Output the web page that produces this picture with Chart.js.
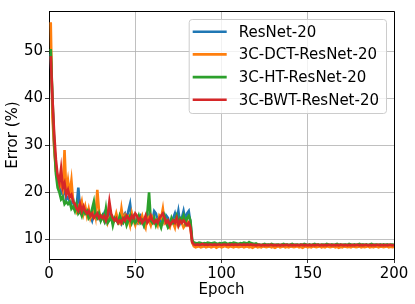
<!DOCTYPE html>
<html>
<head>
<meta charset="utf-8">
<script src="https://cdn.jsdelivr.net/npm/chart.js@4"></script>
<style>
  html,body{margin:0;padding:0;background:#fff;}
  #wrap{width:415px;height:304px;}
</style>
</head>
<body>
<div id="wrap"><canvas id="errChart" width="415" height="304"></canvas></div>
<script>
/* ── data (error % per epoch, epochs 1..200) ── */
const seriesLabels = ['ResNet-20','3C-DCT-ResNet-20','3C-HT-ResNet-20','3C-BWT-ResNet-20'];
const seriesColors = ['#1f77b4','#ff7f0e','#2ca02c','#d62728'];
const xTicks = [0,50,100,150,200];
const yTicks = [10,20,30,40,50];

const resnet = [
  49.5,38.5,30.0,25.5,23.0,21.5,20.0,19.5,21.0,18.5,
  19.0,18.0,17.5,18.5,17.0,17.0,21.0,16.5,17.5,16.0,
  16.5,15.5,16.0,15.0,14.0,15.5,16.5,14.5,15.0,14.0,
  14.5,15.5,14.0,15.0,16.0,14.5,13.5,14.0,15.0,14.0,
  14.5,13.5,15.0,15.5,14.0,16.0,17.5,14.5,15.0,14.0,
  13.5,14.5,15.0,14.0,13.0,14.5,15.5,14.0,13.5,14.0,
  16.0,15.5,14.0,13.5,14.5,13.5,14.0,15.0,14.5,13.0,
  13.5,14.5,15.5,14.0,16.0,13.5,14.5,16.0,14.0,15.5,
  16.0,13.5,9.5,
  8.7,8.6,8.5,8.7,8.6,8.8,8.5,8.6,8.7,8.5,
  8.6,8.8,8.6,8.5,8.7,8.6,8.4,8.6,8.7,8.5,
  8.6,8.7,8.6,8.8,8.5,8.6,8.7,8.6,8.5,8.7,
  8.6,8.5,8.8,8.6,8.7,8.5,8.6,8.7,8.6,8.4,
  8.6,8.5,8.6,8.7,8.5,8.6,8.4,8.6,8.5,8.7,
  8.6,8.5,8.6,8.4,8.6,8.7,8.5,8.6,8.5,8.6,
  8.7,8.5,8.6,8.4,8.6,8.5,8.7,8.6,8.5,8.6,
  8.6,8.5,8.7,8.6,8.4,8.6,8.5,8.6,8.7,8.5,
  8.6,8.5,8.6,8.7,8.5,8.4,8.6,8.5,8.6,8.7,
  8.5,8.6,8.5,8.6,8.7,8.4,8.6,8.5,8.6,8.5,
  8.7,8.6,8.5,8.6,8.4,8.6,8.5,8.7,8.6,8.5,
  8.6,8.5,8.6,8.7,8.5,8.6,8.6
];
const dctResnet = [
  56.2,36.0,29.5,24.5,23.5,21.0,22.0,20.5,29.0,20.0,
  22.5,19.5,22.5,18.0,17.5,16.0,17.0,16.5,18.0,15.5,
  17.0,15.0,16.5,14.5,15.5,17.0,15.0,20.5,16.0,14.5,
  15.0,14.0,15.5,13.5,14.5,15.0,13.5,14.0,15.5,14.0,
  13.5,16.5,14.0,15.0,13.5,14.5,13.0,15.5,14.0,13.0,
  14.5,13.5,14.0,15.0,13.5,12.5,15.0,14.0,13.0,14.5,
  13.5,14.0,13.0,15.0,14.5,16.5,13.5,14.0,13.0,12.5,
  14.0,13.5,12.5,14.5,13.0,14.0,13.5,12.5,13.0,14.0,
  13.0,12.5,9.3,
  8.5,8.3,8.4,8.5,8.3,8.4,8.6,8.3,8.4,8.5,
  8.3,8.4,8.5,8.2,8.4,8.5,8.3,8.4,8.6,8.4,
  8.3,8.5,8.4,8.3,8.5,8.4,8.3,8.4,8.5,8.3,
  8.4,8.5,8.3,8.4,8.2,8.4,8.5,8.3,8.4,8.3,
  8.5,8.4,8.3,8.4,8.5,8.3,8.4,8.2,8.4,8.5,
  8.3,8.4,8.5,8.3,8.4,8.3,8.5,8.4,8.3,8.4,
  8.5,8.3,8.4,8.2,8.4,8.5,8.3,8.4,8.3,8.5,
  8.4,8.3,8.4,8.5,8.3,8.4,8.3,8.5,8.4,8.3,
  8.4,8.5,8.3,8.4,8.2,8.4,8.3,8.5,8.4,8.3,
  8.4,8.3,8.5,8.4,8.3,8.4,8.5,8.3,8.4,8.3,
  8.4,8.5,8.3,8.4,8.3,8.4,8.5,8.3,8.4,8.4,
  8.3,8.4,8.5,8.3,8.4,8.3,8.4
];
const htResnet = [
  50.5,40.0,31.0,24.0,21.0,20.0,18.5,19.0,17.5,18.0,
  17.5,18.0,16.5,17.0,16.0,17.5,15.5,16.0,15.0,16.5,
  15.5,16.0,14.5,15.0,16.5,18.0,15.0,14.5,15.5,14.0,
  15.0,14.0,16.5,13.5,14.0,15.0,13.0,14.5,14.0,13.5,
  15.0,14.0,13.5,14.5,13.0,14.0,15.0,13.5,14.5,13.5,
  14.0,15.0,13.5,14.0,13.0,14.5,15.5,20.0,14.0,13.5,
  14.5,13.0,14.0,13.5,12.5,14.0,15.0,13.5,12.5,13.0,
  14.5,13.5,14.0,15.0,13.5,14.5,14.0,15.0,13.5,14.5,
  15.0,14.0,9.8,
  9.3,9.2,9.1,9.3,9.2,9.0,9.2,9.1,9.3,9.2,
  9.1,9.2,9.3,9.1,9.0,9.2,9.1,9.2,9.3,9.1,
  9.0,9.2,9.1,9.3,9.2,9.1,9.0,9.2,9.1,9.3,
  9.2,9.1,9.4,9.2,9.1,9.0,9.1,8.9,8.9,8.8,
  8.9,9.0,8.8,8.9,8.8,9.0,8.9,8.8,8.9,8.9,
  8.8,8.9,9.0,8.8,8.9,8.8,8.9,9.0,8.8,8.9,
  8.9,8.8,8.9,8.8,9.0,8.9,8.8,8.9,8.8,8.9,
  9.0,8.8,8.9,8.8,8.9,8.9,8.8,9.0,8.9,8.8,
  8.9,8.8,8.9,9.0,8.8,8.9,8.8,8.9,8.9,8.8,
  9.0,8.9,8.8,8.9,8.8,8.9,9.0,8.8,8.9,8.8,
  8.9,8.8,8.9,9.0,8.8,8.9,8.9,8.8,8.9,8.8,
  8.9,8.8,8.9,8.8,8.9,8.9,8.8
];
const bwtResnet = [
  49.0,40.0,32.5,27.0,23.5,22.0,25.0,21.0,22.0,19.5,
  20.5,19.0,19.5,18.0,17.5,16.5,16.0,17.5,16.0,17.0,
  16.0,15.5,16.0,15.0,15.5,14.5,15.0,15.5,14.5,15.0,
  14.5,15.0,14.0,15.0,18.0,15.5,14.5,14.0,14.5,13.5,
  14.0,13.5,14.5,14.0,15.0,14.5,14.0,15.0,14.5,15.5,
  15.0,14.0,14.5,13.5,14.0,15.0,13.5,14.0,15.0,14.0,
  13.5,14.0,13.5,14.5,15.0,15.5,14.5,13.5,14.0,13.0,
  13.5,14.0,13.5,14.5,13.0,14.0,13.5,14.0,13.5,13.0,
  13.5,12.5,9.4,
  8.9,8.8,8.9,8.8,8.9,9.0,8.8,8.9,8.8,8.9,
  8.9,8.8,8.9,8.8,8.9,8.9,8.8,8.9,8.9,8.8,
  8.9,8.8,8.9,8.8,8.9,8.8,8.9,8.9,8.8,8.9,
  8.8,8.9,8.8,8.9,8.8,8.8,8.7,8.8,8.8,8.7,
  8.8,8.7,8.8,8.7,8.8,8.8,8.7,8.8,8.7,8.8,
  8.7,8.8,8.7,8.8,8.8,8.7,8.8,8.7,8.8,8.7,
  8.8,8.7,8.8,8.8,8.7,8.8,8.7,8.8,8.7,8.8,
  8.7,8.8,8.8,8.7,8.8,8.7,8.8,8.7,8.8,8.8,
  8.7,8.8,8.7,8.8,8.7,8.8,8.8,8.7,8.8,8.7,
  8.8,8.7,8.8,8.7,8.8,8.8,8.7,8.8,8.7,8.8,
  8.8,8.7,8.8,8.7,8.8,8.7,8.8,8.8,8.7,8.8,
  8.7,8.8,8.7,8.8,8.8,8.7,8.8
];

const FONT = "'DejaVu Sans', sans-serif";
const seriesData = [resnet, dctResnet, htResnet, bwtResnet];

// top/right spines + legend box (matplotlib style)
const frameAndLegend = {
  id:'frameAndLegend',
  afterDatasetsDraw(chart){
    const {ctx, chartArea:a} = chart;
    ctx.save();
    ctx.strokeStyle = '#000'; ctx.lineWidth = 1;
    ctx.beginPath();
    ctx.moveTo(a.left, a.top+0.5); ctx.lineTo(a.right+0.5, a.top+0.5); ctx.lineTo(a.right+0.5, a.bottom);
    ctx.stroke();

    // legend
    ctx.font = '15px ' + FONT;
    const labels = chart.data.datasets.map(d=>d.label);
    const tw = Math.max(...labels.map(t=>ctx.measureText(t).width));
    const w = 4 + 34 + 12 + tw + 7, h = 94;
    const x0 = a.right - 8 - w, y0 = a.top + 8;
    ctx.beginPath();
    ctx.roundRect(x0+0.5, y0+0.5, w, h, 3);
    ctx.fillStyle = 'rgba(255,255,255,0.8)'; ctx.fill();
    ctx.strokeStyle = '#cccccc'; ctx.lineWidth = 1; ctx.stroke();
    chart.data.datasets.forEach((d,i)=>{
      const yy = y0 + 12.7 + i*22.7;
      ctx.strokeStyle = d.borderColor; ctx.lineWidth = 2.6;
      ctx.beginPath(); ctx.moveTo(x0+4, yy); ctx.lineTo(x0+38, yy); ctx.stroke();
      ctx.fillStyle = '#000'; ctx.textBaseline = 'middle'; ctx.textAlign = 'left';
      ctx.fillText(d.label, x0+50, yy+1);
    });
    ctx.restore();
  }
};

const datasets = seriesData.map((arr,i)=>({
  label: seriesLabels[i],
  data: arr.map((v,k)=>({x:k+1, y:v})),
  borderColor: seriesColors[i],
  backgroundColor: seriesColors[i],
  borderWidth: 2.6,
  pointRadius: 0,
  tension: 0,
  fill: false,
  order: 4 - i
}));

new Chart(document.getElementById('errChart').getContext('2d'),{
  type:'line',
  data:{datasets},
  plugins:[frameAndLegend],
  options:{
    responsive:false, animation:false, devicePixelRatio:1,
    layout:{padding:{top:6,right:21,left:0,bottom:0}},
    plugins:{legend:{display:false},tooltip:{enabled:false}},
    scales:{
      x:{type:'linear',min:0,max:200,
        afterBuildTicks:s=>{ s.ticks = xTicks.map(v=>({value:v})); },
        afterFit:s=>{ s.height = 45; },
        grid:{color:'#b0b0b0',lineWidth:0.8,tickColor:'#000',tickLength:4,drawTicks:true},
        border:{color:'#000',width:1},
        ticks:{color:'#000',font:{family:FONT,size:15},padding:2,maxRotation:0},
        title:{display:true,text:'Epoch',color:'#000',font:{family:FONT,size:15},padding:{top:0,bottom:5}}
      },
      y:{type:'linear',min:5.8,max:58.6,
        afterBuildTicks:s=>{ s.ticks = yTicks.map(v=>({value:v})); },
        afterFit:s=>{ s.width = 49; },
        grid:{color:'#b0b0b0',lineWidth:0.8,tickColor:'#000',tickLength:4,drawTicks:true},
        border:{color:'#000',width:1},
        ticks:{color:'#000',font:{family:FONT,size:15},padding:2},
        title:{display:true,text:'Error (%)',color:'#000',font:{family:FONT,size:15},padding:{top:4,bottom:0}}
      }
    }
  }
});
</script>
</body>
</html>
